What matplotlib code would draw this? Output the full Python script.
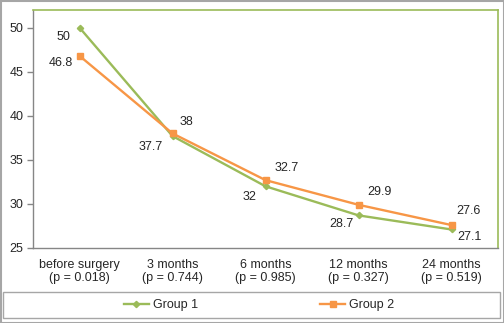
import matplotlib
matplotlib.use("Agg")
import matplotlib.pyplot as plt
from matplotlib.patches import Rectangle

plt.rcParams["font.family"] = ["Liberation Sans", "DejaVu Sans"]
plt.rcParams["font.size"] = 9

categories = [
    "before surgery\n(p = 0.018)",
    "3 months\n(p = 0.744)",
    "6 months\n(p = 0.985)",
    "12 months\n(p = 0.327)",
    "24 months\n(p = 0.519)",
]
group1 = [50, 37.7, 32, 28.7, 27.1]
group2 = [46.8, 38, 32.7, 29.9, 27.6]

# label offsets in pixels (dx, dy), dy positive = up
offsets1 = [(-16, -9), (-22, -11), (-16, -11), (-17, -9), (18, -8)]
offsets2 = [(-19, -7), (14, 11), (21, 12), (21, 13), (17, 14)]

GREEN = "#9bbb59"
ORANGE = "#f79646"
GRAY = "#a6a6a6"
TEXT = "#262626"

fig = plt.figure(figsize=(5.04, 3.23), dpi=100)
ax = fig.add_axes([33 / 504, 75 / 323, 465 / 504, 238 / 323])

x = list(range(len(categories)))
l1, = ax.plot(x, group1, color=GREEN, lw=1.7, marker="D", ms=3.2,
              mec=GREEN, mfc=GREEN, label="Group 1")
l2, = ax.plot(x, group2, color=ORANGE, lw=1.7, marker="s", ms=5,
              mec=ORANGE, mfc=ORANGE, label="Group 2")

for xi, v, (dx, dy) in zip(x, group1, offsets1):
    ax.annotate(f"{v:g}", (xi, v), xytext=(dx, dy), textcoords="offset pixels",
                ha="center", va="center", color=TEXT)
for xi, v, (dx, dy) in zip(x, group2, offsets2):
    ax.annotate(f"{v:g}", (xi, v), xytext=(dx, dy), textcoords="offset pixels",
                ha="center", va="center", color=TEXT)

ax.set_xlim(-0.5, 4.5)
ax.set_ylim(25, 52)
ax.set_yticks([25, 30, 35, 40, 45, 50])
ax.set_xticks(x)
ax.set_xticklabels(categories, color=TEXT, linespacing=1.05)
ax.tick_params(axis="x", length=0, pad=8)
ax.tick_params(axis="y", length=4, width=1, color="#868686", pad=3, labelcolor=TEXT)

for side in ("left", "bottom"):
    ax.spines[side].set_color("#868686")
    ax.spines[side].set_linewidth(1)
for side in ("top", "right"):
    ax.spines[side].set_color(GREEN)
    ax.spines[side].set_linewidth(1.2)

# legend box and outer border
fig.patches.append(Rectangle((3 / 504, 5 / 323), 497 / 504, 26 / 323,
                             transform=fig.transFigure, fill=False,
                             edgecolor=GRAY, lw=1))
fig.patches.append(Rectangle((0.5 / 504, 0.5 / 323), 503 / 504, 322 / 323,
                             transform=fig.transFigure, fill=False,
                             edgecolor=GRAY, lw=1.5))

fig.legend(handles=[l1, l2], loc="center", bbox_to_anchor=(259 / 504, 18 / 323),
           ncol=2, frameon=False, handlelength=2.0, handletextpad=0.3,
           columnspacing=9.8, labelcolor=TEXT)

fig.savefig("out.png", dpi=100)
